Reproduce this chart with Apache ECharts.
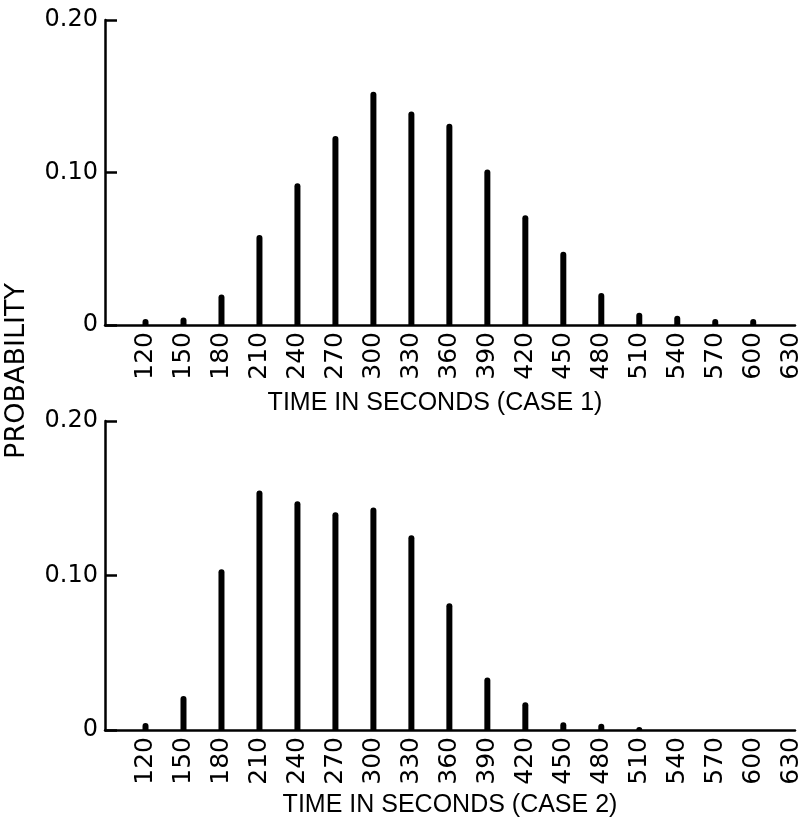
<!DOCTYPE html>
<html>
<head>
<meta charset="utf-8">
<script src="https://cdn.jsdelivr.net/npm/echarts@6/dist/echarts.min.js"></script>
<style>
html,body{margin:0;padding:0;background:#fff;}
#main{width:809px;height:820px;}
</style>
</head>
<body>
<div id="main"></div>
<script>
// Data
const times = [120,150,180,210,240,270,300,330,360,390,420,450,480,510,540,570,600,630];
const tickLabels = ['120','150','180','210','240','270','300','330','360','390','420','450','480','510','540','570','600','630'];
const case1 = [0.004,0.005,0.020,0.059,0.093,0.124,0.153,0.140,0.132,0.102,0.072,0.048,0.021,0.008,0.006,0.004,0.004,null];
const case2 = [0.0045,0.022,0.104,0.155,0.148,0.141,0.144,0.126,0.082,0.034,0.018,0.005,0.004,0.002,null,null,null,null];
const yTicks = [0, 0.1, 0.2];

const chart = echarts.init(document.getElementById('main'), null, {renderer:'canvas'});
const font = '"DejaVu Sans", Verdana, sans-serif';
const pairs = arr => times.map((t,i) => [t, arr[i]]).filter(p => p[1] != null);

function xAxis(gridIndex, name, pad, gap) {
  return {
    type: 'value', gridIndex, min: 88, max: 633,
    name, nameLocation: 'middle', nameGap: gap,
    nameTextStyle: {fontFamily: '"Liberation Sans Narrow", "Liberation Sans", sans-serif', fontSize: 25, color: '#000', padding: pad},
    axisLine: {show: true, lineStyle: {color: '#000', width: 2.5}},
    axisTick: {show: false},
    splitLine: {show: false},
    axisLabel: {
      customValues: times, rotate: 90, margin: 7,
      fontFamily: font, fontSize: 25, color: '#000',
      formatter: v => tickLabels[times.indexOf(v)]
    }
  };
}
function yAxis(gridIndex) {
  return {
    type: 'value', gridIndex, min: 0, max: 0.2, interval: 0.1,
    axisLine: {show: true, lineStyle: {color: '#000', width: 2.5}},
    axisTick: {show: true, inside: true, length: 12, lineStyle: {color: '#000', width: 2.5}},
    splitLine: {show: false},
    axisLabel: {
      margin: 7, fontFamily: font, fontSize: 24, color: '#000',
      formatter: v => v === 0 ? '0' : v.toFixed(2)
    }
  };
}
const barStyle = {color: '#000', borderRadius: [3,3,0,0]};

chart.setOption({
  animation: false,
  backgroundColor: '#fff',
  grid: [
    {left: 105, top: 20, width: 690, height: 305},
    {left: 105, top: 421, width: 690, height: 309}
  ],
  xAxis: [xAxis(0, 'TIME IN SECONDS (CASE 1)', [0, 30, 0, 0], 66), xAxis(1, 'TIME IN SECONDS (CASE 2)', [0, 0, 0, 0], 63)],
  yAxis: [yAxis(0), yAxis(1)],
  graphic: [{
    type: 'text', x: 17, y: 371, rotation: Math.PI/2,
    style: {text: 'PROBABILITY', fontFamily: font, fontSize: 27, fill: '#000', align: 'center', verticalAlign: 'middle'}
  }],
  series: [
    {type: 'bar', xAxisIndex: 0, yAxisIndex: 0, barWidth: 6, data: pairs(case1), itemStyle: barStyle},
    {type: 'bar', xAxisIndex: 1, yAxisIndex: 1, barWidth: 6, data: pairs(case2), itemStyle: barStyle}
  ]
});
</script>
</body>
</html>
